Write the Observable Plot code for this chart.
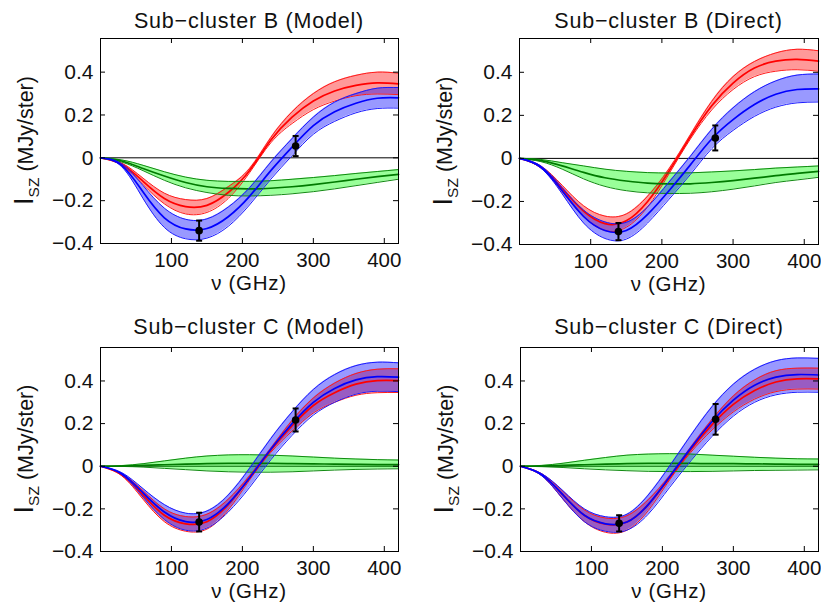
<!DOCTYPE html>
<html><head><meta charset="utf-8">
<script src="https://cdn.jsdelivr.net/npm/d3@7"></script>
<script src="https://cdn.jsdelivr.net/npm/@observablehq/plot@0.6"></script>
<style>
body{margin:0;background:#fff;}
#chart{position:relative;width:821px;height:605px;background:#fff;overflow:hidden;}
#chart svg{position:absolute;}
</style></head><body><div id="chart"></div>
<script>
// ---- data ----
const freq = [0,30,60,90,120,150,180,210,240,270,300,330,360,390,420];
const xTicks = [100,200,300,400];
const yTicks = [-0.4,-0.2,0,0.2,0.4];
const obsFreq = [139,275];

// Sub-cluster B (Model)
const bModelRedLo  = [0,-0.035,-0.125,-0.215,-0.262,-0.255,-0.19,-0.07,0.07,0.16,0.225,0.265,0.29,0.298,0.295];
const bModelRedMid = [0,-0.03,-0.11,-0.19,-0.228,-0.222,-0.162,-0.06,0.082,0.19,0.265,0.312,0.338,0.35,0.345];
const bModelRedHi  = [0,-0.025,-0.095,-0.165,-0.195,-0.19,-0.135,-0.05,0.095,0.215,0.3,0.355,0.385,0.4,0.395];
const bModelBlueLo  = [0,-0.042,-0.19,-0.325,-0.378,-0.375,-0.32,-0.22,-0.1,0.01,0.11,0.17,0.21,0.23,0.232];
const bModelBlueMid = [0,-0.035,-0.16,-0.28,-0.332,-0.33,-0.275,-0.18,-0.06,0.05,0.15,0.215,0.255,0.278,0.28];
const bModelBlueHi  = [0,-0.028,-0.13,-0.235,-0.287,-0.285,-0.23,-0.14,-0.02,0.09,0.19,0.26,0.3,0.325,0.328];
const bModelGreenLo  = [0,-0.02,-0.06,-0.105,-0.14,-0.162,-0.175,-0.178,-0.175,-0.168,-0.158,-0.145,-0.13,-0.115,-0.1];
const bModelGreenMid = [0,-0.015,-0.05,-0.085,-0.115,-0.135,-0.143,-0.145,-0.142,-0.135,-0.125,-0.113,-0.1,-0.088,-0.077];
const bModelGreenHi  = [0,-0.01,-0.035,-0.065,-0.09,-0.105,-0.11,-0.11,-0.107,-0.1,-0.092,-0.083,-0.073,-0.064,-0.055];
const bModelObs = [-0.34,0.055];
const bModelErr = [0.047,0.047];

// Sub-cluster B (Direct)
const bDirectRedLo  = [0,-0.045,-0.155,-0.27,-0.335,-0.32,-0.225,-0.072,0.09,0.225,0.32,0.38,0.405,0.412,0.405];
const bDirectRedMid = [0,-0.04,-0.14,-0.245,-0.303,-0.29,-0.2,-0.06,0.1,0.245,0.35,0.42,0.452,0.46,0.452];
const bDirectRedHi  = [0,-0.035,-0.125,-0.22,-0.268,-0.258,-0.175,-0.048,0.11,0.265,0.38,0.45,0.49,0.507,0.5];
const bDirectBlueLo  = [0,-0.045,-0.165,-0.3,-0.372,-0.375,-0.3,-0.19,-0.075,0.045,0.13,0.195,0.238,0.258,0.262];
const bDirectBlueMid = [0,-0.04,-0.15,-0.27,-0.335,-0.335,-0.26,-0.15,-0.03,0.09,0.18,0.25,0.298,0.32,0.323];
const bDirectBlueHi  = [0,-0.035,-0.135,-0.24,-0.295,-0.297,-0.225,-0.11,0.01,0.135,0.235,0.31,0.36,0.387,0.392];
const bDirectGreenLo  = [0,-0.015,-0.05,-0.095,-0.13,-0.15,-0.16,-0.163,-0.162,-0.155,-0.143,-0.128,-0.112,-0.1,-0.088];
const bDirectGreenMid = [0,-0.01,-0.035,-0.065,-0.09,-0.105,-0.115,-0.118,-0.118,-0.112,-0.103,-0.092,-0.08,-0.07,-0.06];
const bDirectGreenHi  = [0,-0.005,-0.02,-0.035,-0.05,-0.06,-0.066,-0.068,-0.067,-0.063,-0.058,-0.052,-0.045,-0.04,-0.035];
const bDirectObs = [-0.34,0.095];
const bDirectErr = [0.04,0.058];

// Sub-cluster C (Model)
const cModelRedLo  = [0,-0.045,-0.155,-0.26,-0.305,-0.295,-0.205,-0.065,0.065,0.165,0.25,0.3,0.333,0.345,0.346];
const cModelRedMid = [0,-0.04,-0.135,-0.23,-0.27,-0.26,-0.18,-0.055,0.075,0.19,0.285,0.345,0.385,0.402,0.402];
const cModelRedHi  = [0,-0.035,-0.115,-0.2,-0.236,-0.225,-0.155,-0.045,0.085,0.215,0.32,0.39,0.435,0.455,0.457];
const cModelBlueLo  = [0,-0.04,-0.145,-0.25,-0.3,-0.29,-0.215,-0.1,0.03,0.145,0.24,0.3,0.338,0.352,0.35];
const cModelBlueMid = [0,-0.035,-0.125,-0.215,-0.26,-0.25,-0.175,-0.055,0.08,0.2,0.3,0.365,0.405,0.42,0.418];
const cModelBlueHi  = [0,-0.03,-0.105,-0.18,-0.22,-0.21,-0.135,-0.01,0.13,0.255,0.36,0.43,0.472,0.488,0.485];
const cModelGreenLo  = [0,-0.001,-0.004,-0.01,-0.016,-0.022,-0.026,-0.028,-0.028,-0.026,-0.022,-0.018,-0.015,-0.013,-0.012];
const cModelGreenMid = [0,0.001,0.004,0.007,0.01,0.012,0.013,0.013,0.013,0.012,0.011,0.01,0.009,0.008,0.008];
const cModelGreenHi  = [0,0.003,0.012,0.025,0.038,0.048,0.053,0.054,0.052,0.048,0.043,0.038,0.034,0.031,0.029];
const cModelObs = [-0.262,0.217];
const cModelErr = [0.044,0.054];

// Sub-cluster C (Direct)
const cDirectRedLo  = [0,-0.045,-0.155,-0.26,-0.31,-0.3,-0.208,-0.065,0.065,0.17,0.255,0.315,0.35,0.362,0.362];
const cDirectRedMid = [0,-0.04,-0.135,-0.23,-0.272,-0.262,-0.18,-0.055,0.078,0.195,0.29,0.355,0.395,0.41,0.41];
const cDirectRedHi  = [0,-0.035,-0.118,-0.205,-0.243,-0.232,-0.157,-0.045,0.09,0.22,0.33,0.405,0.448,0.46,0.46];
const cDirectBlueLo  = [0,-0.045,-0.155,-0.26,-0.305,-0.3,-0.225,-0.1,0.025,0.14,0.235,0.3,0.335,0.347,0.347];
const cDirectBlueMid = [0,-0.04,-0.135,-0.23,-0.27,-0.262,-0.18,-0.05,0.085,0.21,0.31,0.38,0.418,0.43,0.428];
const cDirectBlueHi  = [0,-0.035,-0.115,-0.2,-0.237,-0.225,-0.135,0,0.145,0.28,0.385,0.455,0.495,0.508,0.506];
const cDirectGreenLo  = [0,-0.002,-0.006,-0.012,-0.017,-0.021,-0.024,-0.025,-0.025,-0.024,-0.022,-0.02,-0.019,-0.018,-0.017];
const cDirectGreenMid = [0,0.001,0.004,0.007,0.01,0.012,0.013,0.013,0.013,0.012,0.012,0.011,0.01,0.009,0.009];
const cDirectGreenHi  = [0,0.004,0.014,0.028,0.041,0.052,0.057,0.059,0.057,0.052,0.047,0.042,0.038,0.035,0.034];
const cDirectObs = [-0.268,0.22];
const cDirectErr = [0.038,0.072];

// ---- build ----
const table = (lo, mid, hi) => freq.map((f, i) => ({f, lo: lo[i], mid: mid[i], hi: hi[i]}));
const obsTable = (v, e) => obsFreq.map((f, i) => ({f, v: v[i], e: e[i]}));

const panels = [
  {title: "Sub\u2212cluster B (Model)", left: 0, top: 0, width: 410, height: 300, mL: 100, mR: 12, mT: 38, mB: 57, tGap: 10.5,
   red: table(bModelRedLo, bModelRedMid, bModelRedHi), blue: table(bModelBlueLo, bModelBlueMid, bModelBlueHi),
   green: table(bModelGreenLo, bModelGreenMid, bModelGreenHi), obs: obsTable(bModelObs, bModelErr)},
  {title: "Sub\u2212cluster B (Direct)", left: 410, top: 0, width: 411, height: 300, mL: 109, mR: 3, mT: 38, mB: 56, tGap: 10.5,
   red: table(bDirectRedLo, bDirectRedMid, bDirectRedHi), blue: table(bDirectBlueLo, bDirectBlueMid, bDirectBlueHi),
   green: table(bDirectGreenLo, bDirectGreenMid, bDirectGreenHi), obs: obsTable(bDirectObs, bDirectErr)},
  {title: "Sub\u2212cluster C (Model)", left: 0, top: 300, width: 410, height: 305, mL: 100, mR: 12, mT: 47, mB: 54, tGap: 13,
   red: table(cModelRedLo, cModelRedMid, cModelRedHi), blue: table(cModelBlueLo, cModelBlueMid, cModelBlueHi),
   green: table(cModelGreenLo, cModelGreenMid, cModelGreenHi), obs: obsTable(cModelObs, cModelErr)},
  {title: "Sub\u2212cluster C (Direct)", left: 410, top: 300, width: 411, height: 305, mL: 110, mR: 3, mT: 47, mB: 54, tGap: 13,
   red: table(cDirectRedLo, cDirectRedMid, cDirectRedHi), blue: table(cDirectBlueLo, cDirectBlueMid, cDirectBlueHi),
   green: table(cDirectGreenLo, cDirectGreenMid, cDirectGreenHi), obs: obsTable(cDirectObs, cDirectErr)}
];

const FONT = "'Liberation Sans', Arial, Helvetica, sans-serif";
const fmt = d => d === 0 ? "0" : d3.format(".1f")(d).replace("-", "\u2212");
const cap = {draw(ctx, size) { const r = Math.sqrt(size / Math.PI); ctx.moveTo(-r, 0); ctx.lineTo(r, 0); }};
const styles = {
  red:   {fill: "#ff0000", edge: "#ff1a1a", line: "#ff0000"},
  green: {fill: "#00ff00", edge: "#108a10", line: "#007a00"},
  blue:  {fill: "#0000ff", edge: "#1a1aff", line: "#0000ff"}
};
const order = ["red", "green", "blue"];
const chart = document.getElementById("chart");

for (const p of panels) {
  const fw = p.width - p.mL - p.mR, fh = p.height - p.mT - p.mB;
  const marks = [
    Plot.ruleY([0], {stroke: "black", strokeWidth: 1}),
    ...order.map(k => Plot.areaY(p[k], {x: "f", y1: "lo", y2: "hi", fill: styles[k].fill, fillOpacity: 0.4, curve: "natural"})),
    ...order.flatMap(k => [
      Plot.line(p[k], {x: "f", y: "lo", stroke: styles[k].edge, strokeWidth: 1, curve: "natural"}),
      Plot.line(p[k], {x: "f", y: "hi", stroke: styles[k].edge, strokeWidth: 1, curve: "natural"}),
      Plot.line(p[k], {x: "f", y: "mid", stroke: styles[k].line, strokeWidth: 1.7, curve: "natural"})
    ]),
    Plot.ruleX(p.obs, {x: "f", y1: d => d.v - d.e, y2: d => d.v + d.e, stroke: "black", strokeWidth: 2}),
    Plot.dot(p.obs, {x: "f", y: d => d.v + d.e, symbol: cap, r: 3, stroke: "black", strokeWidth: 2}),
    Plot.dot(p.obs, {x: "f", y: d => d.v - d.e, symbol: cap, r: 3, stroke: "black", strokeWidth: 2}),
    Plot.dot(p.obs, {x: "f", y: "v", r: 3.8, fill: "black"}),
    Plot.tickY(yTicks, {y: d => d, insetRight: fw - 5, stroke: "black"}),
    Plot.tickY(yTicks, {y: d => d, insetLeft: fw - 5, stroke: "black"}),
    Plot.tickX(xTicks, {x: d => d, insetTop: fh - 5, stroke: "black"}),
    Plot.tickX(xTicks, {x: d => d, insetBottom: fh - 5, stroke: "black"}),
    Plot.axisX({ticks: xTicks, tickSize: 0, tickPadding: 9, label: null, fill: "#111", fontSize: 20.5}),
    Plot.axisY({ticks: yTicks, tickSize: 0, tickPadding: 7, tickFormat: fmt, label: null, fill: "#111"}),
    Plot.frame({stroke: "black", strokeWidth: 1})
  ];
  const svg = Plot.plot({
    width: p.width, height: p.height,
    marginLeft: p.mL, marginRight: p.mR, marginTop: p.mT, marginBottom: p.mB,
    x: {domain: [0, 420]},
    y: {domain: [-0.4, 0.557]},
    style: {fontFamily: FONT, fontSize: "21px", background: "transparent", overflow: "visible"},
    marks
  });
  svg.style.left = p.left + "px";
  svg.style.top = p.top + "px";
  const s = d3.select(svg);
  // title
  s.append("text").attr("x", p.mL + fw / 2).attr("y", p.mT - p.tGap)
    .attr("text-anchor", "middle").attr("font-size", 21.5).attr("letter-spacing", 0.8)
    .attr("fill", "#111").text(p.title);
  // x label
  s.append("text").attr("x", p.mL + fw / 2).attr("y", p.mT + fh + 47)
    .attr("text-anchor", "middle").attr("font-size", 20.5).attr("letter-spacing", 0.7)
    .attr("fill", "#111").text("\u03bd (GHz)");
  // y label
  const yl = s.append("text").attr("text-anchor", "middle").attr("fill", "#111")
    .attr("transform", `translate(${p.mL - 67},${p.mT + fh / 2}) rotate(-90)`);
  yl.append("tspan").attr("font-size", 27).text("I");
  yl.append("tspan").attr("font-size", 15.5).attr("dy", 6).text("SZ");
  yl.append("tspan").attr("font-size", 21.5).attr("dy", -6).text(" (MJy/ster)");
  chart.appendChild(svg);
}
</script>
</body></html>
